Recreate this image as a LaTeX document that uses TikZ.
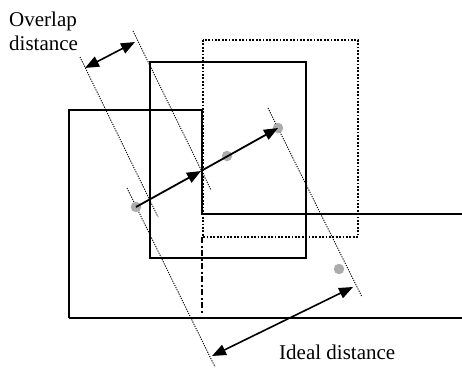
\documentclass[tikz,border=0pt]{standalone}
\usepackage{fontspec}
\setmainfont{Liberation Serif}
\usetikzlibrary{arrows.meta, positioning, calc}
\tikzset{
  box/.style={line width=2pt},
  dotbox/.style={line width=2pt, dash pattern=on 1.8pt off 1.6pt},
  dashdotline/.style={line width=2pt, dash pattern=on 6pt off 2.5pt on 2pt off 2.5pt},
  guide/.style={line width=0.9pt, dash pattern=on 1.2pt off 1.2pt},
  dot/.style={circle, fill=gray!65, inner sep=0pt, minimum size=10.5pt},
  arr/.style={line width=1.8pt, -{Triangle[length=14pt,width=11pt]}},
  dblarr/.style={line width=1.6pt, {Triangle[length=14pt,width=11pt]}-{Triangle[length=14pt,width=11pt]}},
  lbl/.style={font=\fontsize{21}{24}\selectfont, inner sep=0pt, align=left}
}
\begin{document}
\begin{tikzpicture}[x=1pt, y=-1pt]
\useasboundingbox (0,0) rectangle (462,369);
% guide lines
\draw[guide] (80,57) -- (158,217);
\draw[guide] (133,31) -- (211,190);
\draw[guide] (127,188) -- (215,367);
\draw[guide] (268,108) -- (362,297);
% boxes
\draw[dotbox] (203,40) rectangle (358,237);
\draw[box] (69,318) -- (69,110) -- (202,110) -- (202,214) -- (462,214);
\draw[box] (69,318) -- (462,318);
\draw[dashdotline] (202,237) -- (202,314);
\draw[box] (150,62) rectangle (306,258);
% centres
\node[dot] (pa) at (136,207) {};
\node[dot] (pb) at (227,156) {};
\node[dot] (pc) at (278,128) {};
\node[dot] (pd) at (339,269) {};
\coordinate (cut) at (201,171);
\draw[arr] (pa.center) -- (cut);
\draw[arr] (cut) -- (pc.center);
% distances
\coordinate (ovl) at (85,68);
\coordinate (ovr) at (135,42);
\coordinate (idl) at (212,356);
\coordinate (idr) at (353,287);
\draw[dblarr] (ovl) -- (ovr);
\draw[dblarr] (idl) -- (idr);
\node[lbl, anchor=north west] (overlap) at (9,11.5) {Overlap\\distance};
\node[lbl, anchor=base west] (ideal) at (279,359) {Ideal distance};
\end{tikzpicture}
\end{document}
